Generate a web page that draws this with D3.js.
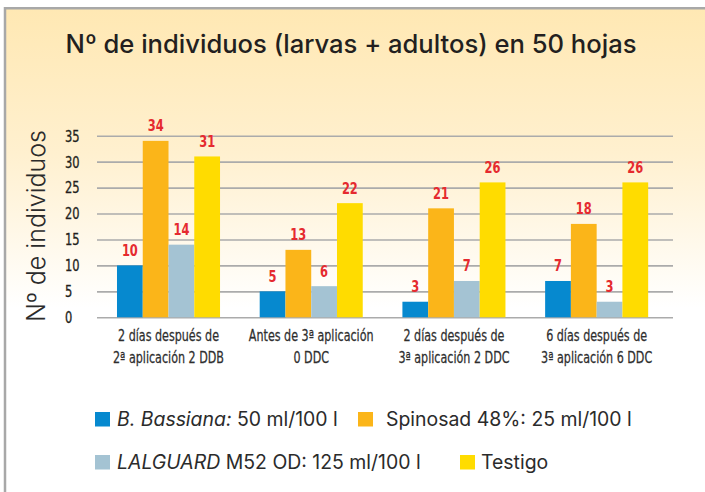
<!DOCTYPE html>
<html>
<head>
<meta charset="utf-8">
<script src="https://cdn.jsdelivr.net/npm/d3@7"></script>
<style>
  html, body { margin: 0; padding: 0; background: #fff; }
  svg { display: block; }
  .cond { font-family: 'DejaVu Sans', sans-serif; font-stretch: condensed; }
</style>
</head>
<body>
<svg id="chart" width="705" height="492"></svg>
<script>
// ---- data ----
const categories = [
  ["2 días después de", "2ª aplicación 2 DDB"],
  ["Antes de 3ª aplicación", "0 DDC"],
  ["2 días después de", "3ª aplicación 2 DDC"],
  ["6 días después de", "3ª aplicación 6 DDC"]
];
const seriesKeys = ["bassiana", "spinosad", "lalguard", "testigo"];
const bassiana = [10, 5, 3, 7];
const spinosad = [34, 13, 21, 18];
const lalguard = [14, 6, 7, 3];
const testigo  = [31, 22, 26, 26];
const yTicks = [0, 5, 10, 15, 20, 25, 30, 35];
const legendItalic = ["B. Bassiana:", "", "LALGUARD", ""];
const legendRest = [" 50 ml/100 l", "Spinosad 48%: 25 ml/100 l", " M52 OD: 125 ml/100 l", "Testigo"];
const colors = ["#0689cf", "#fbb519", "#a4c3d3", "#ffdc00"];
const titleText = "Nº de individuos (larvas + adultos) en 50 hojas";
const yTitle = "Nº de individuos";

const seriesValues = [bassiana, spinosad, lalguard, testigo];
const table = categories.map((c, i) => ({
  idx: i,
  values: seriesKeys.map((k, j) => ({ key: k, j: j, v: seriesValues[j][i] }))
}));

const svg = d3.select("#chart");
const W = 705, H = 492;
const SX = 0.85; // horizontal squeeze to imitate a condensed typeface

// background gradient
const defs = svg.append("defs");
const grad = defs.append("linearGradient").attr("id", "bg")
  .attr("x1", 0).attr("y1", 0).attr("x2", 0).attr("y2", 1);
grad.append("stop").attr("offset", "0").attr("stop-color", "#ffe8b3");
grad.append("stop").attr("offset", "0.3").attr("stop-color", "#fff0cf");
grad.append("stop").attr("offset", "0.62").attr("stop-color", "#ffffff");
grad.append("stop").attr("offset", "1").attr("stop-color", "#ffffff");

svg.append("rect").attr("x", 5).attr("y", 8).attr("width", W - 5).attr("height", H - 8)
  .attr("fill", "url(#bg)");
svg.append("line").attr("x1", 5).attr("x2", 5).attr("y1", 7).attr("y2", H)
  .attr("stroke", "#a8a8a8").attr("stroke-width", 2.5);
svg.append("line").attr("x1", 4).attr("x2", W).attr("y1", 8.3).attr("y2", 8.3)
  .attr("stroke", "#a8a8a8").attr("stroke-width", 2.5);

function fitWidth(sel, target, base) {
  const w = sel.node().getComputedTextLength();
  sel.attr("font-size", base * target / w);
}

// title
const title = svg.append("text")
  .attr("x", 351).attr("y", 53)
  .attr("text-anchor", "middle")
  .attr("font-family", "Inter, 'Open Sans', sans-serif")
  .attr("font-weight", 500)
  .attr("font-size", 22)
  .attr("fill", "#231f20")
  .text(titleText);
fitWidth(title, 571, 22);

// scales
const x0 = d3.scaleBand().domain(d3.range(categories.length))
  .range([97, 673]).paddingInner(0.278).paddingOuter(0.157).align(0.446);
const x1 = d3.scaleBand().domain(seriesKeys).range([0, x0.bandwidth()]).padding(0);
const y = d3.scaleLinear().domain([0, 35]).range([317.3, 135.7]);

// gridlines
const grid = svg.append("g")
  .attr("transform", "translate(97,0)")
  .call(d3.axisLeft(y).tickValues(yTicks).tickSize(-576).tickFormat(""));
grid.select(".domain").remove();
grid.selectAll(".tick line").attr("stroke", "#ababab").attr("stroke-width", 1.6);

// y tick labels
const yAxis = svg.append("g")
  .attr("transform", "translate(65,0)")
  .call(d3.axisRight(y).tickValues(yTicks).tickSize(0).tickPadding(0).tickFormat(""));
yAxis.select(".domain").remove();
yAxis.selectAll(".tick").append("text")
  .attr("class", "cond")
  .attr("transform", `scale(${SX},1)`)
  .attr("dy", "0.36em")
  .attr("font-size", 15)
  .attr("fill", "#231f20")
  .attr("stroke", "#231f20").attr("stroke-width", 0.3)
  .attr("text-anchor", "start")
  .text(d => d);

// bars
const groups = svg.append("g").selectAll("g").data(table).join("g")
  .attr("transform", d => `translate(${x0(d.idx)},0)`);
groups.selectAll("rect").data(d => d.values).join("rect")
  .attr("x", d => x1(d.key))
  .attr("width", x1.bandwidth())
  .attr("y", d => y(d.v))
  .attr("height", d => y(0) - y(d.v))
  .attr("fill", d => colors[d.j]);
groups.selectAll("g.val").data(d => d.values).join("g")
  .attr("class", "val")
  .attr("transform", d => `translate(${x1(d.key) + x1.bandwidth() / 2},${y(d.v) - 9.5}) scale(${SX},1)`)
  .append("text")
  .attr("class", "cond")
  .attr("text-anchor", "middle")
  .attr("font-weight", "bold")
  .attr("font-size", 15)
  .attr("fill", "#e52a2f")
  .text(d => d.v);

// x axis labels
const xAxis = svg.append("g")
  .attr("transform", `translate(0,${y(0)})`)
  .call(d3.axisBottom(x0).tickSize(0).tickFormat(""));
xAxis.select(".domain").remove();
xAxis.selectAll(".tick").each(function(i) {
  const t = d3.select(this).append("text")
    .attr("class", "cond")
    .attr("transform", "scale(0.8,1)")
    .attr("text-anchor", "middle")
    .attr("font-size", 15.5)
    .attr("fill", "#2e2e2e")
    .attr("stroke", "#2e2e2e").attr("stroke-width", 0.25);
  categories[i].forEach((line, k) => {
    t.append("tspan").attr("x", 0).attr("y", 23.5 + k * 22.7).text(line);
  });
});

// y title
svg.append("text")
  .attr("transform", "translate(45,226) rotate(-90)")
  .attr("text-anchor", "middle")
  .attr("font-family", "Inter, 'Open Sans', sans-serif")
  .attr("font-weight", 300)
  .attr("font-size", 25)
  .attr("fill", "#2b2b2b")
  .text(yTitle);

// legend
const legendPos = [[95, 412], [358, 412], [95, 455], [460, 455]];
const textGap = [7, 13, 7, 6];
const lg = svg.append("g").selectAll("g").data(seriesKeys).join("g")
  .attr("transform", (d, i) => `translate(${legendPos[i][0]},${legendPos[i][1]})`);
lg.append("rect").attr("width", 15).attr("height", 14.5)
  .attr("fill", (d, i) => colors[i]);
const lt = lg.append("text")
  .attr("x", (d, i) => 15 + textGap[i])
  .attr("y", 13.5)
  .attr("font-family", "Inter, 'Open Sans', sans-serif")
  .attr("font-size", 17)
  .attr("fill", "#2b2b2b")
  .attr("xml:space", "preserve");
lt.append("tspan").attr("font-style", "italic").text((d, i) => legendItalic[i]);
lt.append("tspan").text((d, i) => legendRest[i]);
const w0 = lt.nodes()[0].getComputedTextLength();
lt.attr("font-size", 17 * 221 / w0);
</script>
</body>
</html>
